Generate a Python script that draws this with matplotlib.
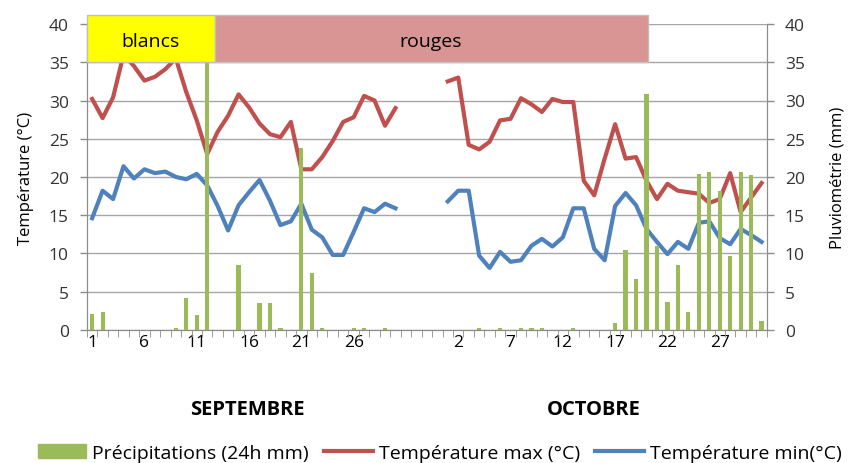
import numpy as np
import matplotlib
matplotlib.use("Agg")
import matplotlib.pyplot as plt
from matplotlib.patches import Rectangle, Patch
from matplotlib.lines import Line2D

plt.rcParams['font.family'] = ['Open Sans', 'DejaVu Sans']

# daily values
sept_max = [30.2, 27.7, 30.4, 36.0, 34.5, 32.6, 33.1, 34.1, 35.5, 31.1,
            27.4, 23.0, 25.9, 28.0, 30.8, 29.1, 27.0, 25.6, 25.2, 27.2,
            21.0, 21.0, 22.6, 24.7, 27.2, 27.8, 30.6, 30.0, 26.7, 29.0]
oct_max = [32.5, 33.0, 24.2, 23.6, 24.6, 27.4, 27.6, 30.3, 29.5, 28.5,
           30.2, 29.8, 29.8, 19.5, 17.6, 22.4, 26.9, 22.4, 22.6, 19.5,
           17.1, 19.1, 18.2, 18.0, 17.8, 16.6, 17.1, 20.5, 15.4, 17.3, 19.2]
sept_min = [14.6, 18.2, 17.1, 21.4, 19.8, 21.0, 20.5, 20.7, 20.0, 19.7,
            20.4, 18.9, 16.2, 13.0, 16.3, 18.0, 19.6, 16.9, 13.7, 14.2,
            16.5, 13.1, 12.1, 9.8, 9.8, 12.8, 15.9, 15.4, 16.5, 15.9]
oct_min = [16.8, 18.2, 18.2, 9.7, 8.1, 10.2, 8.9, 9.1, 11.0, 11.9,
           10.9, 12.1, 15.9, 15.9, 10.6, 9.1, 16.2, 17.9, 16.3, 13.2,
           11.5, 9.9, 11.5, 10.6, 14.0, 14.2, 12.0, 11.2, 13.2, 12.4, 11.5]
sept_rain = [2.1, 2.3, 0, 0, 0, 0, 0, 0, 0.2, 4.1,
             1.9, 41.0, 0, 0, 8.5, 0, 3.5, 3.5, 0.2, 0,
             23.8, 7.4, 0.2, 0, 0, 0.2, 0.2, 0, 0.2, 0]
oct_rain = [0, 0, 0, 0.2, 0, 0.2, 0, 0.2, 0.2, 0.2,
            0, 0, 0.2, 0, 0, 0, 0.9, 10.4, 6.7, 30.9,
            11.0, 3.7, 8.5, 2.3, 20.4, 20.6, 18.2, 9.6, 20.6, 20.2, 1.2]

gap = [np.nan] * 4
tmax = np.array(sept_max + gap + oct_max)
tmin = np.array(sept_min + gap + oct_min)
rain = np.array(sept_rain + [0] * 4 + oct_rain)
x = np.arange(len(tmax))

tick_pos = [0, 5, 10, 15, 20, 25, 35, 40, 45, 50, 55, 60]
tick_lab = ['1', '6', '11', '16', '21', '26', '2', '7', '12', '17', '22', '27']

red = '#C0504D'
blue = '#4F81BD'
green = '#9BBB59'
grey = '#8C8C8C'

fig = plt.figure(figsize=(8.52, 4.64), dpi=100)
ax = fig.add_axes([0.102, 0.287, 0.798, 0.659])
ax2 = ax.twinx()

ax.plot(x, tmax, color=red, lw=3, zorder=3)
ax.plot(x, tmin, color=blue, lw=3, zorder=3)
ax2.bar(x, rain, width=0.4, color=green, zorder=2)

for a in (ax, ax2):
    a.set_xlim(-0.5, len(x) - 0.5)
    a.set_ylim(0, 40)
    a.set_yticks(range(0, 41, 5))
    a.tick_params(axis='y', labelsize=12.5, colors='#333333', length=5, width=1, color=grey, pad=8)
    for s in a.spines.values():
        s.set_color(grey)
    a.spines['top'].set_visible(False)

ax.yaxis.grid(True, color='#A6A6A6', lw=1)
ax.set_axisbelow(True)
ax.set_xticks(tick_pos)
ax.set_xticklabels(tick_lab)
ax.set_xticks(np.arange(-0.5, len(x), 1), minor=True)
ax.tick_params(axis='x', which='major', length=0, labelsize=12.5, pad=3)
ax.tick_params(axis='x', which='minor', length=5, color=grey)

ax.set_ylabel('Température (°C)', fontsize=12, labelpad=11)
ax2.set_ylabel('Pluviométrie (mm)', fontsize=12, labelpad=18)

# month names under the axis
ax.text(14.8, -0.26, 'SEPTEMBRE', transform=ax.get_xaxis_transform(),
        ha='center', va='center', fontsize=14.5, fontweight='bold')
ax.text(48.0, -0.26, 'OCTOBRE', transform=ax.get_xaxis_transform(),
        ha='center', va='center', fontsize=14.5, fontweight='bold')

# wine colour bands
ax2.add_patch(Rectangle((-0.5, 35), 12.24, 6.2, facecolor='#FFFF00', edgecolor='#BFBFBF',
                        lw=1, zorder=10, clip_on=False))
ax2.add_patch(Rectangle((11.74, 35), 41.4, 6.2, facecolor='#D99594', edgecolor='#BFBFBF',
                        lw=1, zorder=10, clip_on=False))
ax2.text(5.6, 37.8, 'blancs', ha='center', va='center', fontsize=14, zorder=11)
ax2.text(32.4, 37.8, 'rouges', ha='center', va='center', fontsize=14, zorder=11)

handles = [Patch(color=green), Line2D([], [], color=red, lw=3), Line2D([], [], color=blue, lw=3)]
labels = ['Précipitations (24h mm)', 'Température max (°C)', 'Température min(°C)']
fig.legend(handles, labels, loc='lower center', bbox_to_anchor=(0.516, -0.035), ncol=3,
           frameon=False, fontsize=14, handlelength=2.5, handletextpad=0.3, columnspacing=0.8)

fig.savefig('out.png', dpi=100)
